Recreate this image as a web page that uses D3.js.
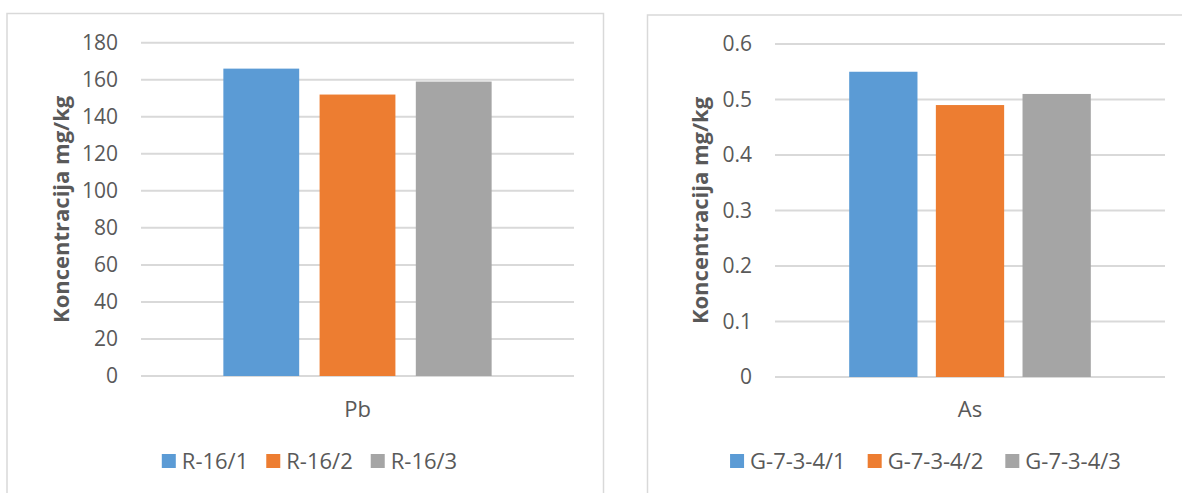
<!DOCTYPE html>
<html>
<head>
<meta charset="utf-8">
<script src="https://cdn.jsdelivr.net/npm/d3@7"></script>
<style>
  html, body { margin: 0; padding: 0; background: #fff; }
  svg { display: block; }
  text { font-family: "Open Sans", "Noto Sans", sans-serif; }
</style>
</head>
<body>
<svg id="chart" width="1182" height="493"></svg>
<script>
// ---- data ----
const yTitle = "Koncentracija mg/kg";
const seriesColors = ["#5b9bd5", "#ed7d31", "#a5a5a5"];

const leftCategories = ["Pb"];
const leftSeries = ["R-16/1", "R-16/2", "R-16/3"];
const leftValues = [166, 152, 159];
const leftTicks = [0, 20, 40, 60, 80, 100, 120, 140, 160, 180];
const leftTickLabels = ["0", "20", "40", "60", "80", "100", "120", "140", "160", "180"];

const rightCategories = ["As"];
const rightSeries = ["G-7-3-4/1", "G-7-3-4/2", "G-7-3-4/3"];
const rightValues = [0.55, 0.49, 0.51];
const rightTicks = [0, 0.1, 0.2, 0.3, 0.4, 0.5, 0.6];
const rightTickLabels = ["0", "0.1", "0.2", "0.3", "0.4", "0.5", "0.6"];

const svg = d3.select("#chart");

function drawChart(cfg) {
  const g = svg.append("g");
  // frame
  g.append("rect")
    .attr("x", cfg.frame.x).attr("y", cfg.frame.y)
    .attr("width", cfg.frame.w).attr("height", cfg.frame.h)
    .attr("fill", "#fff").attr("stroke", "#d9d9d9").attr("stroke-width", 1.5);

  const y = d3.scaleLinear().domain([cfg.ticks[0], cfg.ticks[cfg.ticks.length - 1]])
    .range([cfg.plot.bottom, cfg.plot.top]);
  const x0 = d3.scaleBand().domain(cfg.categories)
    .range([cfg.plot.left, cfg.plot.right]).paddingInner(0).paddingOuter(0.307);
  const x1 = d3.scaleBand().domain(cfg.series)
    .range([0, x0.bandwidth()]).paddingInner(0.212).paddingOuter(0);

  // gridlines
  g.append("g").selectAll("line").data(cfg.ticks).join("line")
    .attr("x1", cfg.plot.left).attr("x2", cfg.plot.right)
    .attr("y1", d => y(d)).attr("y2", d => y(d))
    .attr("stroke", "#d9d9d9").attr("stroke-width", 2);

  // y axis labels via d3 axis
  const yAxis = d3.axisLeft(y).tickValues(cfg.ticks)
    .tickFormat((d, i) => cfg.tickLabels[i]).tickSize(0).tickPadding(0);
  const ya = g.append("g").attr("transform", `translate(${cfg.labelRight},0)`).call(yAxis);
  ya.select(".domain").remove();
  ya.selectAll("text").attr("fill", "#595959").style("font-size", "21px")
    .style("font-family", "'Open Sans', sans-serif");

  // bars
  const barG = g.append("g");
  cfg.categories.forEach(cat => {
    barG.selectAll(null).data(cfg.series).join("rect")
      .attr("x", s => x0(cat) + x1(s))
      .attr("width", x1.bandwidth())
      .attr("y", (s, i) => y(cfg.values[i]))
      .attr("height", (s, i) => y(0) - y(cfg.values[i]))
      .attr("fill", (s, i) => seriesColors[i]);
  });

  // category axis label
  const xAxis = d3.axisBottom(x0).tickSize(0).tickPadding(0);
  const xa = g.append("g").attr("transform", `translate(0,${cfg.catLabelY})`).call(xAxis);
  xa.select(".domain").remove();
  xa.selectAll("text").attr("fill", "#595959").style("font-size", "22px")
    .style("font-family", "'Open Sans', sans-serif").attr("dy", "0.35em").attr("y", 0);

  // y title
  g.append("text")
    .attr("transform", `translate(${cfg.titleX},${(cfg.plot.top + cfg.plot.bottom) / 2}) rotate(-90)`)
    .attr("text-anchor", "middle").attr("dy", "0.35em")
    .attr("fill", "#595959").style("font-size", "22px").style("font-weight", "bold")
    .text(yTitle);

  // legend
  const leg = g.append("g");
  const items = leg.selectAll("g").data(cfg.series).join("g");
  items.append("rect").attr("width", 14).attr("height", 14).attr("y", -7)
    .attr("fill", (d, i) => seriesColors[i]);
  items.append("text").attr("x", 20).attr("dy", "0.35em")
    .attr("fill", "#595959").style("font-size", "22px").text(d => d);
  let xpos = 0;
  items.each(function (d, i) {
    const w = 20 + d3.select(this).select("text").node().getComputedTextLength();
    d3.select(this).attr("transform", `translate(${xpos},0)`);
    xpos += w + cfg.legendGap;
  });
  const total = xpos - cfg.legendGap;
  leg.attr("transform", `translate(${cfg.legendCenter - total / 2},${cfg.legendY})`);
}

drawChart({
  frame: { x: 7, y: 13.5, w: 596.5, h: 500 },
  plot: { left: 141, right: 574, top: 42.7, bottom: 376 },
  labelRight: 118,
  titleX: 61,
  catLabelY: 409,
  legendY: 461,
  legendCenter: 309.5,
  legendGap: 18,
  categories: leftCategories, series: leftSeries, values: leftValues,
  ticks: leftTicks, tickLabels: leftTickLabels
});

drawChart({
  frame: { x: 647.5, y: 15, w: 600, h: 500 },
  plot: { left: 775, right: 1165, top: 44, bottom: 377 },
  labelRight: 752,
  titleX: 700.5,
  catLabelY: 409,
  legendY: 461,
  legendCenter: 925.5,
  legendGap: 22,
  categories: rightCategories, series: rightSeries, values: rightValues,
  ticks: rightTicks, tickLabels: rightTickLabels
});
</script>
</body>
</html>
